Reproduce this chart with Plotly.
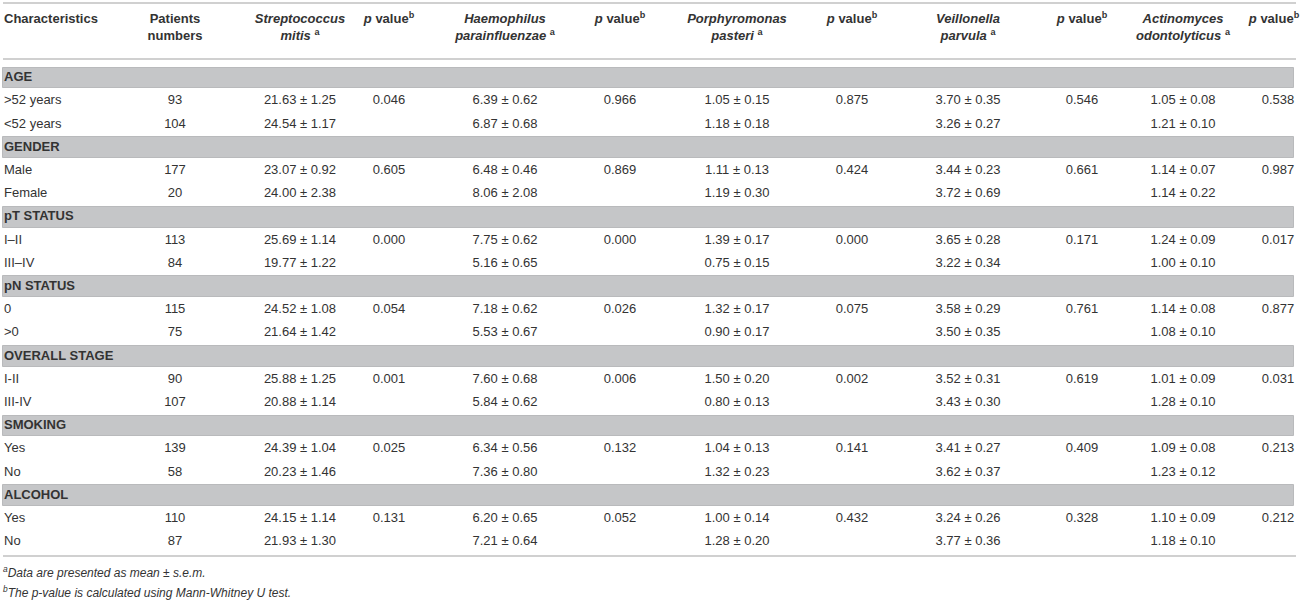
import plotly.graph_objects as go

# ---------------- data ----------------
groups = ["AGE", "GENDER", "pT STATUS", "pN STATUS", "OVERALL STAGE", "SMOKING", "ALCOHOL"]
subgroups = [[">52 years", "<52 years"], ["Male", "Female"], ["I–II", "III–IV"],
             ["0", ">0"], ["I-II", "III-IV"], ["Yes", "No"], ["Yes", "No"]]
patients = [[93, 104], [177, 20], [113, 84], [115, 75], [90, 107], [139, 58], [110, 87]]

strep_mean = [21.63, 24.54, 23.07, 24.00, 25.69, 19.77, 24.52, 21.64, 25.88, 20.88, 24.39, 20.23, 24.15, 21.93]
strep_sem = [1.25, 1.17, 0.92, 2.38, 1.14, 1.22, 1.08, 1.42, 1.25, 1.14, 1.04, 1.46, 1.14, 1.30]
strep_p = [0.046, 0.605, 0.000, 0.054, 0.001, 0.025, 0.131]

haem_mean = [6.39, 6.87, 6.48, 8.06, 7.75, 5.16, 7.18, 5.53, 7.60, 5.84, 6.34, 7.36, 6.20, 7.21]
haem_sem = [0.62, 0.68, 0.46, 2.08, 0.62, 0.65, 0.62, 0.67, 0.68, 0.62, 0.56, 0.80, 0.65, 0.64]
haem_p = [0.966, 0.869, 0.000, 0.026, 0.006, 0.132, 0.052]

porph_mean = [1.05, 1.18, 1.11, 1.19, 1.39, 0.75, 1.32, 0.90, 1.50, 0.80, 1.04, 1.32, 1.00, 1.28]
porph_sem = [0.15, 0.18, 0.13, 0.30, 0.17, 0.15, 0.17, 0.17, 0.20, 0.13, 0.13, 0.23, 0.14, 0.20]
porph_p = [0.875, 0.424, 0.000, 0.075, 0.002, 0.141, 0.432]

veil_mean = [3.70, 3.26, 3.44, 3.72, 3.65, 3.22, 3.58, 3.50, 3.52, 3.43, 3.41, 3.62, 3.24, 3.77]
veil_sem = [0.35, 0.27, 0.23, 0.69, 0.28, 0.34, 0.29, 0.35, 0.31, 0.30, 0.27, 0.37, 0.26, 0.36]
veil_p = [0.546, 0.661, 0.171, 0.761, 0.619, 0.409, 0.328]

actino_mean = [1.05, 1.21, 1.14, 1.14, 1.24, 1.00, 1.14, 1.08, 1.01, 1.28, 1.09, 1.23, 1.10, 1.18]
actino_sem = [0.08, 0.10, 0.07, 0.22, 0.09, 0.10, 0.08, 0.10, 0.09, 0.10, 0.08, 0.12, 0.09, 0.10]
actino_p = [0.538, 0.987, 0.017, 0.877, 0.031, 0.213, 0.212]

header_line1 = ["Characteristics", "Patients", "<i>Streptococcus</i>", "<i>p</i> value<sup>b</sup>",
                "<i>Haemophilus</i>", "<i>p</i> value<sup>b</sup>", "<i>Porphyromonas</i>",
                "<i>p</i> value<sup>b</sup>", "<i>Veillonella</i>", "<i>p</i> value<sup>b</sup>",
                "<i>Actinomyces</i>", "<i>p</i> value<sup>b</sup>"]
header_line2 = ["", "numbers", "<i>mitis</i> <sup>a</sup>", "", "<i>parainfluenzae</i> <sup>a</sup>", "",
                "<i>pasteri</i> <sup>a</sup>", "", "<i>parvula</i> <sup>a</sup>", "",
                "<i>odontolyticus</i> <sup>a</sup>", ""]
footnotes = ["<i><sup>a</sup>Data are presented as mean ± s.e.m.</i>",
             "<i><sup>b</sup>The p-value is calculated using Mann-Whitney U test.</i>"]

# ---------------- layout helpers ----------------
W, H = 1301, 609
ROW0_PX, ROW_PX = 78.0, 23.2


def row_of(px):
    return (px - ROW0_PX) / ROW_PX


col_x = [175, 300, 389, 505, 620, 737, 852, 968, 1082, 1183, 1278]
head_x = [175, 300, 389, 505, 620, 737, 852, 968, 1082, 1183, 1274]
first_x = 4
TXT = "#333333"
FONT = "Liberation Sans"

# build row structure
band_rows, band_labels = [], []
sub_rows, sub_labels, sub_n = [], [], []
p_rows = []
r = 0
for g, subs, ns in zip(groups, subgroups, patients):
    band_rows.append(r)
    band_labels.append(f"<b>{g}</b>")
    r += 1
    p_rows.append(r)
    for s, n in zip(subs, ns):
        sub_rows.append(r)
        sub_labels.append(s)
        sub_n.append(str(n))
        r += 1

fmt_ms = lambda m, s: [f"{a:.2f} ± {b:.2f}" for a, b in zip(m, s)]
fmt_p = lambda p: [f"{v:.3f}" for v in p]

columns = [
    (sub_rows, sub_n),
    (sub_rows, fmt_ms(strep_mean, strep_sem)), (p_rows, fmt_p(strep_p)),
    (sub_rows, fmt_ms(haem_mean, haem_sem)), (p_rows, fmt_p(haem_p)),
    (sub_rows, fmt_ms(porph_mean, porph_sem)), (p_rows, fmt_p(porph_p)),
    (sub_rows, fmt_ms(veil_mean, veil_sem)), (p_rows, fmt_p(veil_p)),
    (sub_rows, fmt_ms(actino_mean, actino_sem)), (p_rows, fmt_p(actino_p)),
]

fig = go.Figure()

# grey section bands
fig.add_trace(go.Bar(
    y=band_rows, x=[1291] * len(band_rows), base=3, orientation="h", width=0.9,
    marker=dict(color="#c5c6c8", line=dict(color="#b9babc", width=1)),
    hoverinfo="skip", showlegend=False))

font = dict(family=FONT, size=13, color=TXT)

# band labels and first column
fig.add_trace(go.Scatter(x=[first_x] * len(band_rows), y=band_rows, text=band_labels,
                         mode="text", textposition="middle right", textfont=font,
                         hoverinfo="skip", showlegend=False))
fig.add_trace(go.Scatter(x=[first_x] * len(sub_rows), y=sub_rows, text=sub_labels,
                         mode="text", textposition="middle right", textfont=font,
                         hoverinfo="skip", showlegend=False))

for cx, (rows, texts) in zip(col_x, columns):
    fig.add_trace(go.Scatter(x=[cx] * len(rows), y=rows, text=texts, mode="text",
                             textposition="middle center", textfont=font,
                             hoverinfo="skip", showlegend=False))

# header
hx = [first_x] + head_x
hpos = ["middle right"] + ["middle center"] * len(head_x)
for lines, py in ((header_line1, 20), (header_line2, 37)):
    keep = [i for i, t in enumerate(lines) if t]
    fig.add_trace(go.Scatter(x=[hx[i] for i in keep], y=[row_of(py)] * len(keep),
                             text=[f"<b>{lines[i]}</b>" for i in keep],
                             mode="text", textposition=[hpos[i] for i in keep], textfont=font,
                             hoverinfo="skip", showlegend=False))

# footnotes
fig.add_trace(go.Scatter(x=[first_x - 1, first_x - 1], y=[row_of(574), row_of(594)], text=footnotes,
                         mode="text", textposition="middle right",
                         textfont=dict(family=FONT, size=12, color=TXT),
                         hoverinfo="skip", showlegend=False))

# horizontal rules
for py in (3, 59, 556):
    fig.add_shape(type="line", xref="x", yref="y", x0=3, x1=1296, y0=row_of(py), y1=row_of(py),
                  line=dict(color="#c0c0c0", width=1.5), layer="below")

fig.update_layout(
    width=W, height=H, margin=dict(l=0, r=0, t=0, b=0),
    paper_bgcolor="white", plot_bgcolor="white",
    xaxis=dict(range=[0, W], visible=False, fixedrange=True),
    yaxis=dict(range=[row_of(H), row_of(0)], visible=False, fixedrange=True),
    hovermode=False, bargap=0,
)

fig.write_html("out.html", config={"displayModeBar": False},
               post_script="document.body.style.margin='0px';document.body.style.overflow='hidden';")
